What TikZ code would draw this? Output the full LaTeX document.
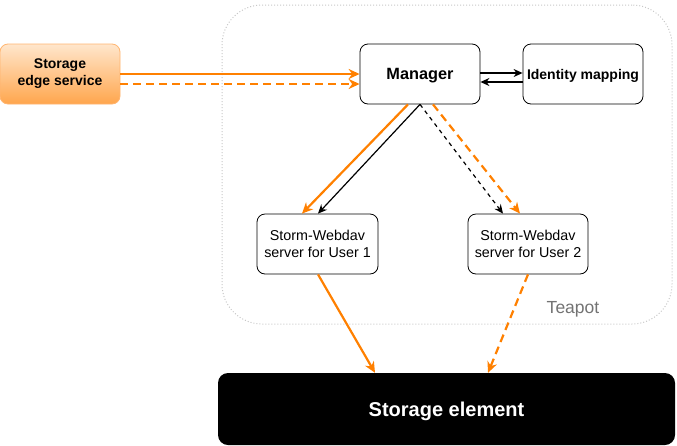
\documentclass[tikz,border=0pt]{standalone}
\usepackage{fontspec}
\setmainfont{Liberation Sans}
\usetikzlibrary{arrows.meta,calc}
\definecolor{orng}{HTML}{FF8000}
\definecolor{edgetop}{HTML}{FFE6CC}
\definecolor{edgebot}{HTML}{FFA64D}
\definecolor{edgeborder}{HTML}{FFB570}
\tikzset{
  box/.style={draw=black, line width=0.8pt, rounded corners=8pt, align=center, inner sep=0pt},
  ora/.style={draw=orng, line width=2.2pt, -{Stealth[length=11pt,width=10pt]}},
  blk/.style={draw=black, line width=1.2pt, -{Stealth[length=9pt,width=8pt]}},
  odash/.style={dash pattern=on 8pt off 5pt},
  bdash/.style={dash pattern=on 4pt off 4pt},
}
\begin{document}
\begin{tikzpicture}[x=1pt,y=-1pt]
\useasboundingbox (0,0) rectangle (677,445);
% container
\node[draw=black!22, line width=1pt, dotted, rounded corners=40pt, minimum width=450pt, minimum height=319pt, inner sep=0pt] (teapot) at (447,164.5) {};
\node[text=black!55, font=\fontsize{17.5}{20}\selectfont] (tlabel) at (573,309) {Teapot};
% nodes
\node[box, draw=edgeborder, top color=edgetop, bottom color=edgebot, minimum width=120pt, minimum height=60pt, font=\bfseries\fontsize{14}{17}\selectfont] (edge) at (60,74) {Storage\\edge service};
\node[box, minimum width=120pt, minimum height=60pt, text depth=0pt, font=\bfseries\fontsize{16.3}{19}\selectfont] (mgr) at (420,74) {Manager};
\node[box, minimum width=120pt, minimum height=60pt, text depth=0pt, font=\bfseries\fontsize{14}{16}\selectfont] (idm) at (583,74) {Identity mapping};
\node[box, minimum width=121pt, minimum height=60pt, font=\fontsize{14.3}{17}\selectfont] (w1) at (317.5,244) {Storm-Webdav\\server for User 1};
\node[box, minimum width=120pt, minimum height=60pt, font=\fontsize{14.3}{17}\selectfont] (w2) at (528,244) {Storm-Webdav\\server for User 2};
\node[fill=black, rounded corners=10pt, minimum width=457pt, minimum height=72pt, inner sep=0pt, text depth=0pt, text=white, font=\bfseries\fontsize{20}{24}\selectfont] (se) at (446.5,409) {Storage element};
% connectors
\draw[ora] (edge.east) -- (mgr.west);
\draw[ora, odash] ([yshift=-10pt]edge.east) -- ([yshift=-10pt]mgr.west);
\draw[blk] ([yshift=1pt]mgr.east) -- ([yshift=1pt]idm.west);
\draw[blk] ([yshift=-8pt]idm.west) -- ([yshift=-8pt]mgr.east);
\draw[ora] ([xshift=-12pt]mgr.south) -- ([xshift=-15.5pt]w1.north);
\draw[blk] (mgr.south) -- ([xshift=0.5pt]w1.north);
\draw[blk, bdash] (mgr.south) -- ([xshift=-25pt]w2.north);
\draw[ora, odash] ([xshift=13pt]mgr.south) -- ([xshift=-8pt]w2.north);
\draw[ora] ([xshift=0.5pt]w1.south) -- ([xshift=-71.5pt]se.north);
\draw[ora, odash] (w2.south) -- ([xshift=41.5pt]se.north);
\end{tikzpicture}
\end{document}
